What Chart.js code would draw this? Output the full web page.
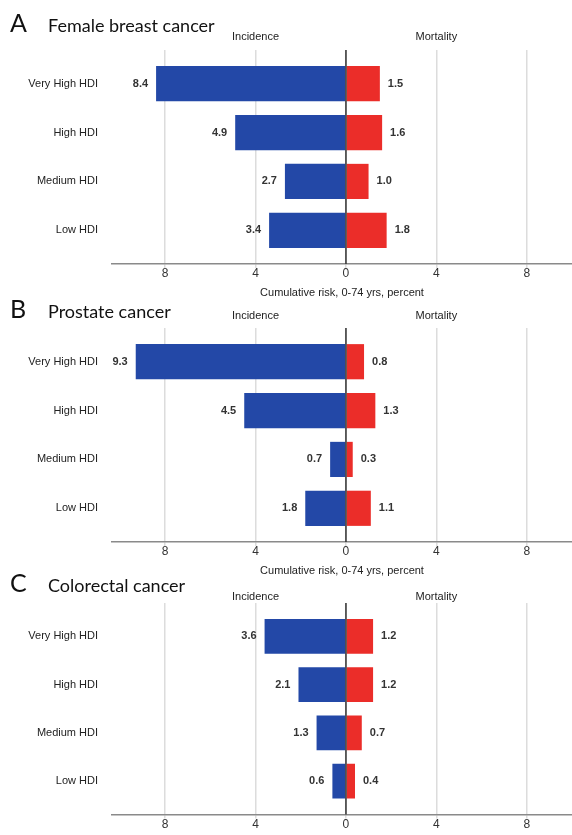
<!DOCTYPE html>
<html>
<head>
<meta charset="utf-8">
<script src="https://cdn.jsdelivr.net/npm/chart.js@4"></script>
<style>
  html, body { margin: 0; padding: 0; background: #fff; }
  #wrap { position: relative; width: 572px; height: 835px; overflow: hidden; }
  .panel { position: absolute; left: 0; width: 572px; }
</style>
</head>
<body>
<div id="wrap">
  <div class="panel" style="top:0px;height:300px"><canvas id="chartA"></canvas></div>
  <div class="panel" style="top:290px;height:288px"><canvas id="chartB"></canvas></div>
  <div class="panel" style="top:560px;height:275px"><canvas id="chartC"></canvas></div>
</div>
<script>
const categories = ["Very High HDI", "High HDI", "Medium HDI", "Low HDI"];
const xTickValues = [-8, -4, 0, 4, 8];

const breastIncidence = [8.4, 4.9, 2.7, 3.4];
const breastMortality = [1.5, 1.6, 1.0, 1.8];
const prostateIncidence = [9.3, 4.5, 0.7, 1.8];
const prostateMortality = [0.8, 1.3, 0.3, 1.1];
const colorectalIncidence = [3.6, 2.1, 1.3, 0.6];
const colorectalMortality = [1.2, 1.2, 0.7, 0.4];

const blue = "#2348a7";
const red = "#eb2d29";
const font = "'Liberation Sans', Arial, sans-serif";
const titleFont = "Lato, 'Open Sans', sans-serif";

// panel layout (canvas coords)
const panels = [
  { id: "chartA", letter: "A", name: "Female breast cancer", inc: breastIncidence, mort: breastMortality,
    height: 300, top: 50, titleY: 32, headY: 37, axisTitle: true },
  { id: "chartB", letter: "B", name: "Prostate cancer", inc: prostateIncidence, mort: prostateMortality,
    height: 288, top: 38, titleY: 28, headY: 26, axisTitle: true },
  { id: "chartC", letter: "C", name: "Colorectal cancer", inc: colorectalIncidence, mort: colorectalMortality,
    height: 275, top: 43, titleY: 32, headY: 37, axisTitle: false }
];

const decorPlugin = {
  id: "decor",
  afterDatasetsDraw(chart, args, opts) {
    const ctx = chart.ctx;
    const x = chart.scales.x;
    const area = chart.chartArea;
    ctx.save();
    // zero line on top of the bars
    const x0 = x.getPixelForValue(0);
    ctx.strokeStyle = "#333";
    ctx.lineWidth = 1.5;
    ctx.beginPath();
    ctx.moveTo(x0, area.top);
    ctx.lineTo(x0, area.bottom);
    ctx.stroke();

    // value labels
    ctx.font = "bold 11px " + font;
    ctx.fillStyle = "#333";
    ctx.textBaseline = "middle";
    chart.data.datasets.forEach((ds, di) => {
      const meta = chart.getDatasetMeta(di);
      meta.data.forEach((bar, i) => {
        const v = Math.abs(ds.data[i].x).toFixed(1);
        if (di === 0) {
          ctx.textAlign = "right";
          ctx.fillText(v, bar.x - 8, bar.y);
        } else {
          ctx.textAlign = "left";
          ctx.fillText(v, bar.x + 8, bar.y);
        }
      });
    });

    // column headings
    ctx.font = "11px " + font;
    ctx.fillStyle = "#222";
    ctx.textAlign = "center";
    ctx.fillText("Incidence", x.getPixelForValue(-4), opts.headY);
    ctx.fillText("Mortality", x.getPixelForValue(4), opts.headY);

    // panel title
    ctx.textAlign = "left";
    ctx.textBaseline = "alphabetic";
    ctx.fillStyle = "#111";
    ctx.font = "25px " + titleFont;
    ctx.fillText(opts.letter, 10, opts.titleY);
    ctx.font = "18px " + titleFont;
    ctx.fillText(opts.name, 48, opts.titleY);
    ctx.restore();
  }
};

panels.forEach(p => {
  const canvas = document.getElementById(p.id);
  canvas.width = 572;
  canvas.height = p.height;
  new Chart(canvas.getContext("2d"), {
    type: "bar",
    data: {
      datasets: [
        {
          label: "Incidence",
          data: p.inc.map((v, i) => ({ x: -v, y: i })),
          backgroundColor: blue,
          borderWidth: 0
        },
        {
          label: "Mortality",
          data: p.mort.map((v, i) => ({ x: v, y: i })),
          backgroundColor: red,
          borderWidth: 0
        }
      ]
    },
    options: {
      indexAxis: "y",
      responsive: false,
      animation: false,
      layout: { padding: { top: p.top, left: 0, right: 0, bottom: 0 } },
      categoryPercentage: 0.72,
      barPercentage: 1,
      plugins: {
        legend: { display: false },
        tooltip: { enabled: false },
        decor: { letter: p.letter, name: p.name, titleY: p.titleY, headY: p.headY }
      },
      scales: {
        x: {
          stacked: true,
          min: -10.35,
          max: 10,
          afterBuildTicks: s => { s.ticks = xTickValues.map(v => ({ value: v })); },
          afterFit: s => { s.height = p.axisTitle ? 36 : 18; },
          grid: {
            color: "#dcdcdc",
            lineWidth: 1.5,
            tickLength: 4,
            drawTicks: true
          },
          border: { display: true, color: "#8a8a8a", width: 1.5 },
          ticks: {
            padding: 0,
            color: "#333",
            font: { family: font, size: 12, lineHeight: 1 },
            callback: v => Math.abs(v)
          },
          title: {
            display: p.axisTitle,
            text: "Cumulative risk, 0-74 yrs, percent",
            color: "#222",
            font: { family: font, size: 11 },
            padding: { top: 0, bottom: 0 }
          }
        },
        y: {
          type: "linear",
          stacked: true,
          reverse: true,
          offset: false,
          min: -0.69,
          max: 3.69,
          afterBuildTicks: s => { s.ticks = categories.map((c, i) => ({ value: i })); },
          afterFit: s => { s.width = 112; },
          grid: { display: false, drawTicks: false },
          border: { display: false },
          ticks: {
            padding: 14,
            color: "#222",
            font: { family: font, size: 11 },
            callback: v => categories[v]
          }
        }
      }
    },
    plugins: [decorPlugin]
  });
});
</script>
</body>
</html>
